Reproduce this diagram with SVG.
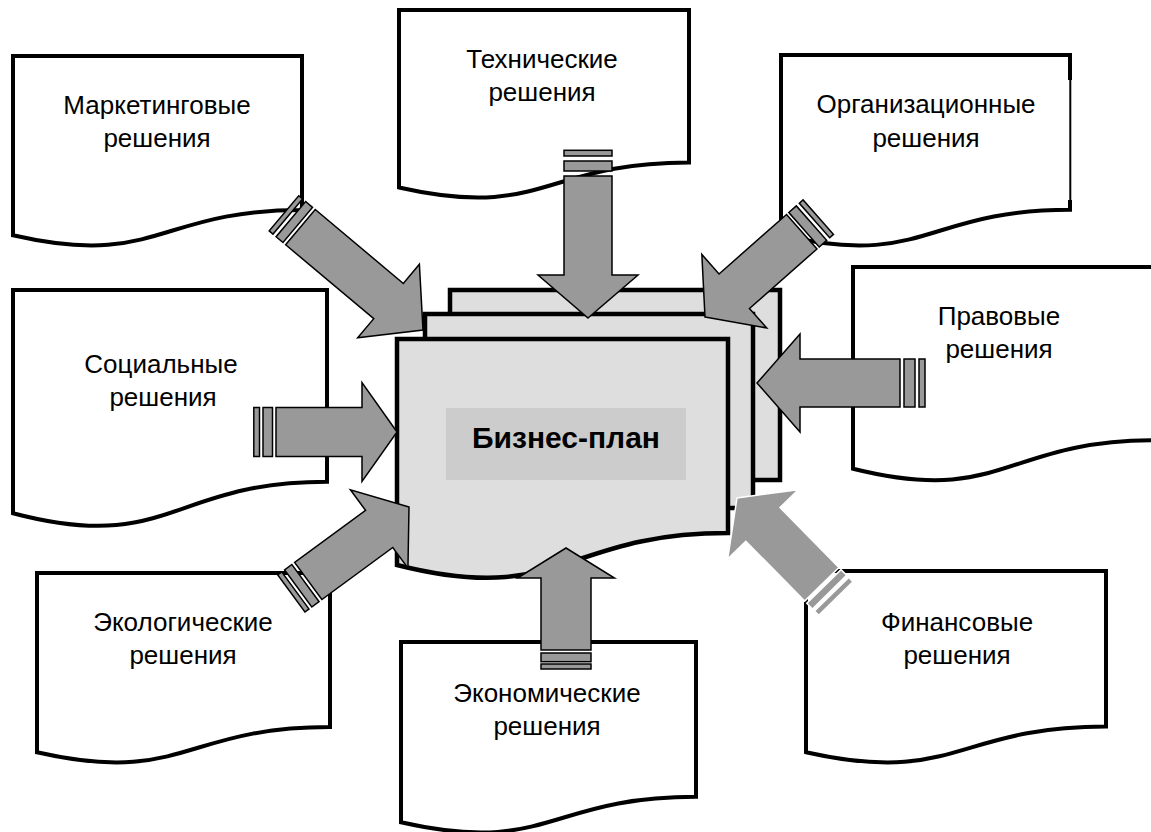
<svg xmlns="http://www.w3.org/2000/svg" width="1151" height="832" viewBox="0 0 1151 832">
<style>
.doc{fill:#fff;stroke:#000;stroke-width:4;stroke-linejoin:miter}
.plan{fill:#dedede;stroke:#000;stroke-width:4.5;stroke-linejoin:miter}
.arr{fill:#999;stroke:#000;stroke-width:1.5;stroke-linejoin:miter}
.arrw{fill:#999;stroke:#fff;stroke-width:1.5;stroke-linejoin:miter}
.lbl{font-family:"Liberation Sans",Arial,sans-serif;font-size:26px;text-anchor:middle;fill:#000}
.title{font-family:"Liberation Sans",Arial,sans-serif;font-size:30px;font-weight:bold;text-anchor:middle;fill:#000}
</style>
<rect width="1151" height="832" fill="#fff"/>

<g id="marketing">
<path class="doc" d="M13,56 H302 V210 C157.5,210 157.5,268.5 13,235.3 Z"/>
<text class="lbl" x="157" y="114">Маркетинговые</text>
<text class="lbl" x="157" y="147">решения</text>
</g>

<g id="technical">
<path class="doc" d="M399,10 H689 V162.4 C544,162.4 544,220.3 399,187.5 Z"/>
<text class="lbl" x="542" y="68">Технические</text>
<text class="lbl" x="542" y="101">решения</text>
</g>

<g id="organizational">
<path class="doc" d="M781,55 H1070 V209.8 C925.5,209.8 925.5,268.7 781,235.3 Z"/>
<line x1="1070" y1="80" x2="1070" y2="200" stroke="#fff" stroke-width="4.5"/>
<line x1="1070.3" y1="78" x2="1070.3" y2="202" stroke="#000" stroke-width="2"/>
<text class="lbl" x="926" y="113">Организационные</text>
<text class="lbl" x="926" y="147">решения</text>
</g>

<g id="legal">
<path class="doc" d="M853,267 H1155 V440.2 C1004,440.2 1004,506.1 853,468.7 Z"/>
<text class="lbl" x="999" y="325">Правовые</text>
<text class="lbl" x="999" y="358">решения</text>
</g>

<g id="social">
<path class="doc" d="M13,290 H327 V481.7 C170,481.7 170,554.6 13,513.2 Z"/>
<text class="lbl" x="161" y="373">Социальные</text>
<text class="lbl" x="163" y="406">решения</text>
</g>

<g id="ecological">
<path class="doc" d="M37,573 H330 V727 C183.5,727 183.5,785.5 37,752.3 Z"/>
<text class="lbl" x="183" y="631">Экологические</text>
<text class="lbl" x="183" y="664">решения</text>
</g>

<g id="economic">
<path class="doc" d="M401,642 H696 V796.8 C548.5,796.8 548.5,855.7 401,822.3 Z"/>
<text class="lbl" x="547" y="702">Экономические</text>
<text class="lbl" x="547" y="735">решения</text>
</g>

<g id="financial">
<path class="doc" d="M806,571 H1106 V726.6 C956,726.6 956,785.8 806,752.2 Z"/>
<text class="lbl" x="957" y="631">Финансовые</text>
<text class="lbl" x="957" y="664">решения</text>
</g>

<g id="business-plan">
<rect class="plan" x="450" y="290" width="330" height="190"/>
<rect class="plan" x="425" y="314" width="328" height="194"/>
<path class="plan" d="M397,339 H728 V533.1 C562.5,533.1 562.5,606.9 397,565 Z"/>
<rect x="446" y="408" width="240" height="72" fill="#cccccc"/>
<text class="title" x="566" y="448">Бизнес-план</text>
</g>

<g id="connectors">
<g transform="translate(397,432)">
<polygon class="arr" points="0,0 -35,-49.5 -35,-24.5 -121,-24.5 -121,24.5 -35,24.5 -35,49.5"/>
<rect class="arr" x="-134" y="-24.5" width="9.5" height="49"/>
<rect class="arr" x="-143.2" y="-24.5" width="5.7" height="49"/>
</g>
<g transform="translate(757,383) rotate(180)">
<polygon class="arr" points="0,0 -43,-49 -43,-24 -143,-24 -143,24 -43,24 -43,49"/>
<rect class="arr" x="-158" y="-24" width="11" height="48"/>
<rect class="arr" x="-168" y="-24" width="6" height="48"/>
</g>
<g transform="translate(588,318) rotate(90)">
<polygon class="arr" points="0,0 -43,-50 -43,-24 -142,-24 -142,24 -43,24 -43,50"/>
<rect class="arr" x="-157" y="-24" width="10" height="48"/>
<rect class="arr" x="-167.7" y="-24" width="5.7" height="48"/>
</g>
<g transform="translate(566,548) rotate(-90)">
<polygon class="arr" points="0,0 -30,-48.5 -30,-25 -102,-25 -102,25 -30,25 -30,48.5"/>
<rect class="arr" x="-113.7" y="-25" width="8.7" height="50"/>
<rect class="arr" x="-121" y="-25" width="5" height="50"/>
</g>
<g transform="translate(423,330) rotate(40)">
<polygon class="arr" points="0,0 -45,-48 -45,-23 -160,-23 -160,23 -45,23 -45,48"/>
<rect class="arr" x="-172.5" y="-23" width="9" height="46"/>
<rect class="arr" x="-181.5" y="-23" width="5" height="46"/>
</g>
<g transform="translate(705,317) rotate(138.6)">
<polygon class="arr" points="0,0 -39,-49 -39,-23 -129,-23 -129,23 -39,23 -39,49"/>
<rect class="arr" x="-142" y="-23" width="10" height="46"/>
<rect class="arr" x="-151" y="-23" width="5" height="46"/>
</g>
<g transform="translate(409,507) rotate(-36.3)">
<polygon class="arr" points="0,0 -37,-48.6 -37,-23 -125,-23 -125,23 -37,23 -37,48.6"/>
<rect class="arr" x="-137.5" y="-23" width="9" height="46"/>
<rect class="arr" x="-146" y="-23" width="5" height="46"/>
</g>
<g transform="translate(737,498) rotate(225.5)">
<polygon class="arrw" points="0,0 -37,-49.5 -37,-24 -121,-24 -121,24 -37,24 -37,49.5"/>
<rect class="arrw" x="-132" y="-24" width="8" height="48"/>
<rect class="arrw" x="-141" y="-24" width="6" height="48"/>
</g>
</g>
</svg>
